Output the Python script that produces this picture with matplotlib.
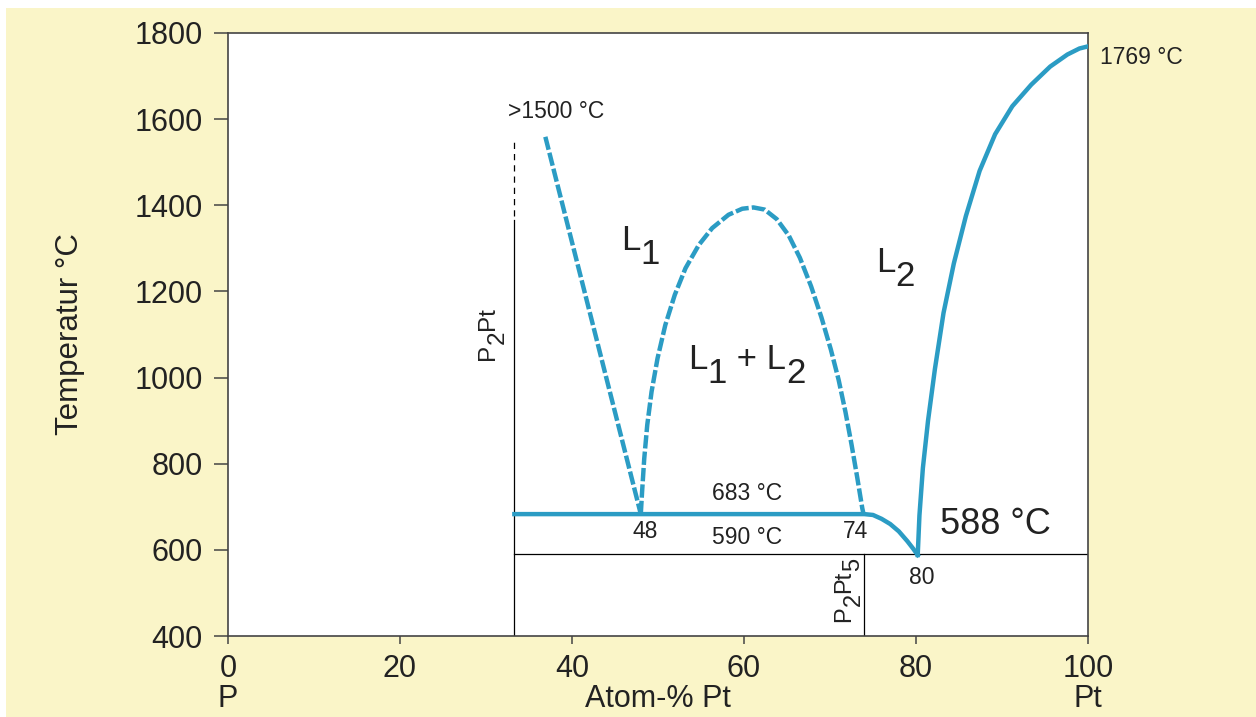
import matplotlib
matplotlib.use("Agg")
import matplotlib.pyplot as plt
from matplotlib.transforms import IdentityTransform
from matplotlib.patches import Rectangle

plt.rcParams['font.family'] = ['Liberation Sans', 'DejaVu Sans']

# --- data (x = Atom-% Pt, T = degC) ---
x_ticks = [0, 20, 40, 60, 80, 100]
y_ticks = [400, 600, 800, 1000, 1200, 1400, 1600, 1800]

# L1 liquidus (dashed) from >1500 C down to the monotectic point at 48
l1_x = [36.9, 48.0]
l1_T = [1559, 683]

# miscibility gap L1 + L2 (dashed dome)
dome_x = [48.0, 48.15, 48.4, 48.75, 49.25, 49.95, 50.85, 51.95, 53.2, 54.75, 56.3, 58.2, 59.8,
          61.1, 62.4, 63.8, 65.2, 66.5, 67.8, 69.0, 70.1, 71.0, 71.8, 72.5, 73.15, 73.75, 73.9]
dome_T = [683, 735, 812, 890, 967, 1045, 1122, 1192, 1254, 1308, 1347, 1378, 1392,
          1395, 1390, 1368, 1330, 1278, 1212, 1140, 1065, 995, 920, 845, 770, 697, 683]

# monotectic line + L2 liquidus down to the eutectic at 80
mono_x = [33.3, 74.0, 75.0, 76.0, 77.0, 78.0, 79.0, 79.7, 80.2]
mono_T = [683, 683, 681, 672, 660, 643, 620, 602, 588]

# Pt liquidus from the eutectic up to the melting point of Pt
pt_x = [80.2, 80.4, 80.8, 81.4, 82.2, 83.2, 84.4, 85.8, 87.4, 89.2, 91.2, 93.4, 95.6,
        97.6, 99.0, 100.0]
pt_T = [588, 680, 790, 900, 1020, 1150, 1265, 1375, 1480, 1565, 1630, 1680, 1722,
        1750, 1764, 1769]

# compounds and eutectic horizontal
p2pt_x = 33.3
p2pt_dash_T = [1375, 1550]
p2pt_solid_T = [400, 1365]
p2pt5_x = 74.0
p2pt5_T = [400, 590]
eut_T = 590

blue = '#2b9cc4'
ink = '#222222'
yellow = '#faf5c8'

fig = plt.figure(figsize=(12.56, 7.17), dpi=100, facecolor=yellow)
# white margin at the top and left like the scanned page
fig.patches.append(Rectangle((0, 1 - 8 / 717), 1, 8 / 717, transform=fig.transFigure,
                             facecolor='white', edgecolor='none', zorder=-1))
fig.patches.append(Rectangle((0, 0), 6 / 1256, 1, transform=fig.transFigure,
                             facecolor='white', edgecolor='none', zorder=-1))

ax = fig.add_axes([228 / 1256, 1 - 636 / 717, 860 / 1256, 603 / 717])
ax.set_xlim(0, 100)
ax.set_ylim(400, 1800)
ax.set_facecolor('white')
for s in ax.spines.values():
    s.set_color('#444444')
    s.set_linewidth(1.2)

ax.set_xticks(x_ticks)
ax.set_yticks(y_ticks)
ax.tick_params(axis='x', length=6, width=1.1, pad=7, labelsize=22, colors='#444444', labelcolor=ink)
ax.tick_params(axis='y', length=10, width=1.1, pad=8, labelsize=22, colors='#444444', labelcolor=ink)
ax.set_ylabel('Temperatur °C', fontsize=22.5, color=ink, labelpad=36)

# thin black construction lines
ax.plot([p2pt_x, p2pt_x], p2pt_solid_T, color='black', lw=0.9)
ax.plot([p2pt_x, p2pt_x], p2pt_dash_T, color='black', lw=0.9, dashes=(5, 4))
ax.plot([p2pt5_x, p2pt5_x], p2pt5_T, color='black', lw=0.9)
ax.plot([p2pt_x, 100], [eut_T, eut_T], color='black', lw=0.9)

# phase boundaries
ax.plot(l1_x, l1_T, color=blue, lw=3.2, dashes=(3.0, 0.7), solid_capstyle='butt', zorder=3)
ax.plot(dome_x, dome_T, color=blue, lw=3.2, dashes=(3.0, 0.7), solid_capstyle='butt', zorder=3)
ax.plot(mono_x, mono_T, color=blue, lw=3.2, solid_joinstyle='round', zorder=3)
ax.plot(pt_x, pt_T, color=blue, lw=3.2, solid_joinstyle='round', zorder=3)


def fig_px(px, py):
    return px, 717 - py


def sub_text(px, py, parts, size, rot=0, drop=0.4):
    # px, py: image pixel coords of the baseline start; parts: (text, is_sub)
    renderer = fig.canvas.get_renderer()
    x, y = fig_px(px, py)
    d = drop * size * 100 / 72
    for s, is_sub in parts:
        if rot == 0:
            t = fig.text(x, y - (d if is_sub else 0), s, transform=IdentityTransform(),
                         ha='left', va='baseline', fontsize=size, color=ink)
            x = t.get_window_extent(renderer).x1
        else:
            t = fig.text(x + (d if is_sub else 0), y, s, transform=IdentityTransform(),
                         ha='left', va='baseline', rotation=90, rotation_mode='anchor',
                         fontsize=size, color=ink)
            y = t.get_window_extent(renderer).y1


fig.canvas.draw()

sub_text(621, 250, [('L', False), ('1', True)], 25)
sub_text(876, 272, [('L', False), ('2', True)], 25)
sub_text(688, 369, [('L', False), ('1', True), (' + L', False), ('2', True)], 25)
sub_text(494, 360, [('P', False), ('2', True), ('Pt', False)], 17.5, rot=90)
sub_text(850, 622, [('P', False), ('2', True), ('Pt', False), ('5', True)], 17, rot=90)

small = dict(color=ink, ha='center', va='center', transform=IdentityTransform())
for txt, (px, py), size in [
    ('>1500 °C', (556, 111), 16.5),
    ('683 °C', (747, 493), 16.5),
    ('590 °C', (747, 538), 16.5),
    ('48', (645, 532), 16.5),
    ('74', (856, 532), 16.5),
    ('80', (922, 577), 16.5),
    ('588 °C', (995, 525), 26),
]:
    fig.text(*fig_px(px, py), txt, fontsize=size, **small)
fig.text(*fig_px(1100, 57), '1769 °C', fontsize=16.5, color=ink, ha='left', va='center',
         transform=IdentityTransform())

# element names and axis title under the tick labels
for txt, px in [('P', 228), ('Atom-% Pt', 658), ('Pt', 1088)]:
    fig.text(*fig_px(px, 699), txt, fontsize=22, **small)

fig.savefig('out.png', dpi=100, facecolor=yellow)
